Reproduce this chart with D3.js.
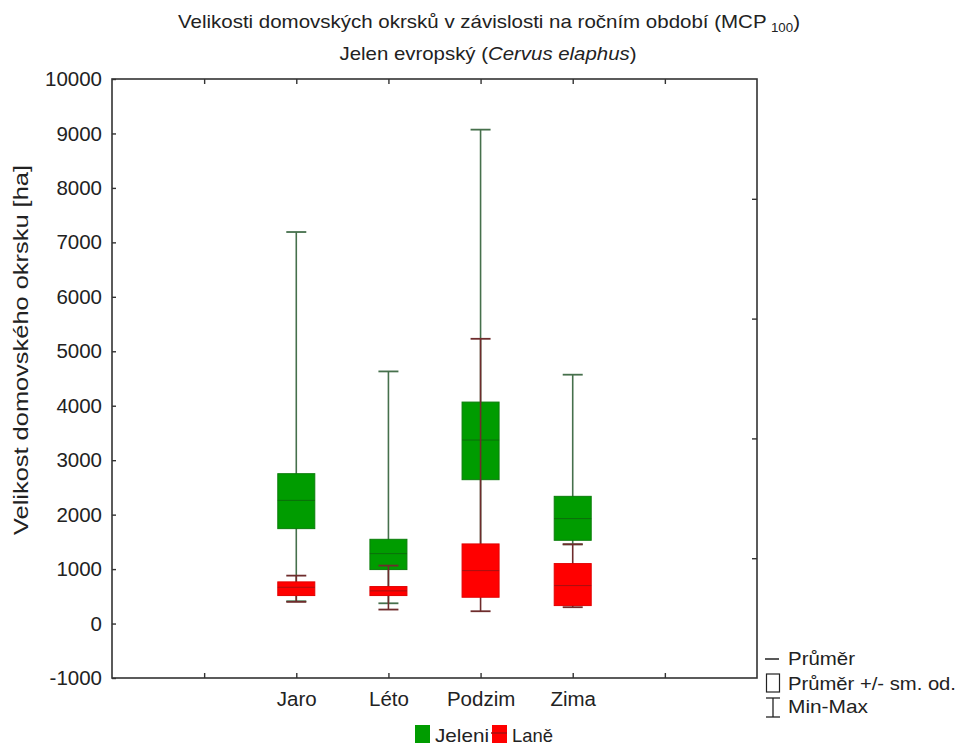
<!DOCTYPE html>
<html><head><meta charset="utf-8">
<script src="https://cdn.jsdelivr.net/npm/d3@7/dist/d3.min.js"></script>
<style>
body{margin:0;background:#fff;}
text{font-family:"Liberation Sans",Arial,sans-serif;fill:#222;}
</style></head>
<body>
<svg id="c" width="958" height="746"></svg>
<script>
// ---- data ----
const seasons = ["Jaro", "Léto", "Podzim", "Zima"];
const xSlots = ["_a", "Jaro", "Léto", "Podzim", "Zima", "_b"];
const yTicks = [-1000, 0, 1000, 2000, 3000, 4000, 5000, 6000, 7000, 8000, 9000, 10000];
const rightTicks = [1200, 3400, 5600, 7800];

const jeleniMean   = [2262, 1284, 3370, 1927];
const jeleniSdLow  = [1743, 991, 2642, 1529];
const jeleniSdHigh = [2752, 1547, 4067, 2336];
const jeleniMin    = [410, 372, 600, 1455];
const jeleniMax    = [7190, 4630, 9070, 4570];

const laneMean   = [666, 600, 972, 697];
const laneSdLow  = [514, 514, 483, 330];
const laneSdHigh = [765, 679, 1462, 1101];
const laneMin    = [398, 257, 226, 300];
const laneMax    = [880, 1064, 5229, 1455];

const seriesNames = ["Jeleni", "Laně"];

// ---- layout ----
const svg = d3.select("#c");
const L = 112, R = 757, T = 79, B = 678;
const x = d3.scalePoint().domain(xSlots).range([L, R]).padding(1);
const y = d3.scaleLinear().domain([-1000, 10000]).range([B, T]);

const series = [
  {name: seriesNames[0], mean: jeleniMean, lo: jeleniSdLow, hi: jeleniSdHigh, min: jeleniMin, max: jeleniMax,
   fill: "#009c00", edge: "#0a7d0a", meanCol: "#0b6e0b", whisk: "#46704c"},
  {name: seriesNames[1], mean: laneMean, lo: laneSdLow, hi: laneSdHigh, min: laneMin, max: laneMax,
   fill: "#ff0000", edge: "#e20000", meanCol: "#a81010", whisk: "#6e2c2c"}
];

const boxW = 37, capW = 20;

// frame
svg.append("rect").attr("x", L).attr("y", T).attr("width", R - L).attr("height", B - T)
  .attr("fill", "none").attr("stroke", "#333").attr("stroke-width", 1.6);

// axes
const fs = 20.5;
const yAxis = svg.append("g").attr("transform", `translate(${L},0)`)
  .call(d3.axisLeft(y).tickValues(yTicks).tickSize(-4).tickPadding(10).tickFormat(d => String(d)));
const xAxis = svg.append("g").attr("transform", `translate(0,${B})`)
  .call(d3.axisBottom(x).tickSize(-5).tickPadding(13).tickFormat(d => d.startsWith("_") ? "" : d));
const xTop = svg.append("g").attr("transform", `translate(0,${T})`)
  .call(d3.axisTop(x).tickSize(-5).tickFormat(""));
const yRight = svg.append("g").attr("transform", `translate(${R},0)`)
  .call(d3.axisRight(y).tickValues(rightTicks).tickSize(-5).tickFormat(""));
[yAxis, xAxis, xTop, yRight].forEach(g => {
  g.select(".domain").remove();
  g.selectAll(".tick line").attr("stroke", "#333").attr("stroke-width", 1.4);
  g.selectAll("text").style("font-size", fs + "px").attr("fill", "#222").style("font-family", '"Liberation Sans",Arial,sans-serif');
});

// boxes
series.forEach(s => {
  const g = svg.append("g");
  seasons.forEach((c, i) => {
    const cx = x(c);
    g.append("line").attr("x1", cx).attr("x2", cx).attr("y1", y(s.min[i])).attr("y2", y(s.max[i]))
      .attr("stroke", s.whisk).attr("stroke-width", 1.6);
    [s.min[i], s.max[i]].forEach(v => {
      g.append("line").attr("x1", cx - capW / 2).attr("x2", cx + capW / 2).attr("y1", y(v)).attr("y2", y(v))
        .attr("stroke", s.whisk).attr("stroke-width", 1.8);
    });
    g.append("rect").attr("x", cx - boxW / 2).attr("y", y(s.hi[i])).attr("width", boxW)
      .attr("height", y(s.lo[i]) - y(s.hi[i])).attr("fill", s.fill).attr("stroke", s.edge).attr("stroke-width", 1);
    g.append("line").attr("x1", cx - boxW / 2).attr("x2", cx + boxW / 2).attr("y1", y(s.mean[i])).attr("y2", y(s.mean[i]))
      .attr("stroke", s.meanCol).attr("stroke-width", 1);
  });
});

// titles
svg.append("text").attr("x", 489).attr("y", 28).attr("text-anchor", "middle").style("font-size", "18.5px")
  .attr("textLength", 622).attr("lengthAdjust", "spacingAndGlyphs")
  .html('Velikosti domovských okrsků v závislosti na ročním období (MCP<tspan dy="4" dx="4" style="font-size:12px">100</tspan><tspan dy="-4">)</tspan>');
svg.append("text").attr("x", 488).attr("y", 60).attr("text-anchor", "middle").style("font-size", "18.5px")
  .attr("textLength", 297).attr("lengthAdjust", "spacingAndGlyphs")
  .html('Jelen evropský (<tspan font-style="italic">Cervus elaphus</tspan>)');

// y label
svg.append("text").attr("transform", "translate(28,350) rotate(-90)").attr("text-anchor", "middle")
  .style("font-size", "19.5px").attr("textLength", 370).attr("lengthAdjust", "spacingAndGlyphs")
  .text("Velikost domovského okrsku [ha]");

// bottom legend
const lg = svg.append("g");
const legX = [415, 492];
const legW = [54, 41];
series.forEach((s, i) => {
  lg.append("rect").attr("x", legX[i]).attr("y", 725).attr("width", 15).attr("height", 18).attr("fill", s.fill);
  lg.append("text").attr("x", legX[i] + 20).attr("y", 742).style("font-size", "19px")
    .attr("textLength", legW[i]).attr("lengthAdjust", "spacingAndGlyphs").text(s.name);
});
lg.append("line").attr("x1", legX[1] - 1).attr("x2", legX[1] + 15).attr("y1", 733).attr("y2", 733).attr("stroke", "#a81010").attr("stroke-width", 1.5);

// right legend
const rl = svg.append("g");
rl.append("line").attr("x1", 765).attr("x2", 779).attr("y1", 659).attr("y2", 659).attr("stroke", "#222").attr("stroke-width", 1.5);
rl.append("text").attr("x", 788).attr("y", 665).style("font-size", "19px").attr("textLength", 67).attr("lengthAdjust", "spacingAndGlyphs").text("Průměr");
rl.append("rect").attr("x", 766.5).attr("y", 674).attr("width", 13).attr("height", 18).attr("fill", "none").attr("stroke", "#222").attr("stroke-width", 1.2);
rl.append("text").attr("x", 788).attr("y", 690).style("font-size", "19px").attr("textLength", 168).attr("lengthAdjust", "spacingAndGlyphs").text("Průměr +/- sm. od.");
rl.append("line").attr("x1", 766).attr("x2", 780).attr("y1", 698).attr("y2", 698).attr("stroke", "#222").attr("stroke-width", 1.3);
rl.append("line").attr("x1", 773).attr("x2", 773).attr("y1", 698).attr("y2", 717).attr("stroke", "#222").attr("stroke-width", 1.3);
rl.append("line").attr("x1", 766).attr("x2", 780).attr("y1", 717).attr("y2", 717).attr("stroke", "#222").attr("stroke-width", 1.3);
rl.append("text").attr("x", 788).attr("y", 713).style("font-size", "19px").attr("textLength", 80).attr("lengthAdjust", "spacingAndGlyphs").text("Min-Max");
</script>
</body></html>
